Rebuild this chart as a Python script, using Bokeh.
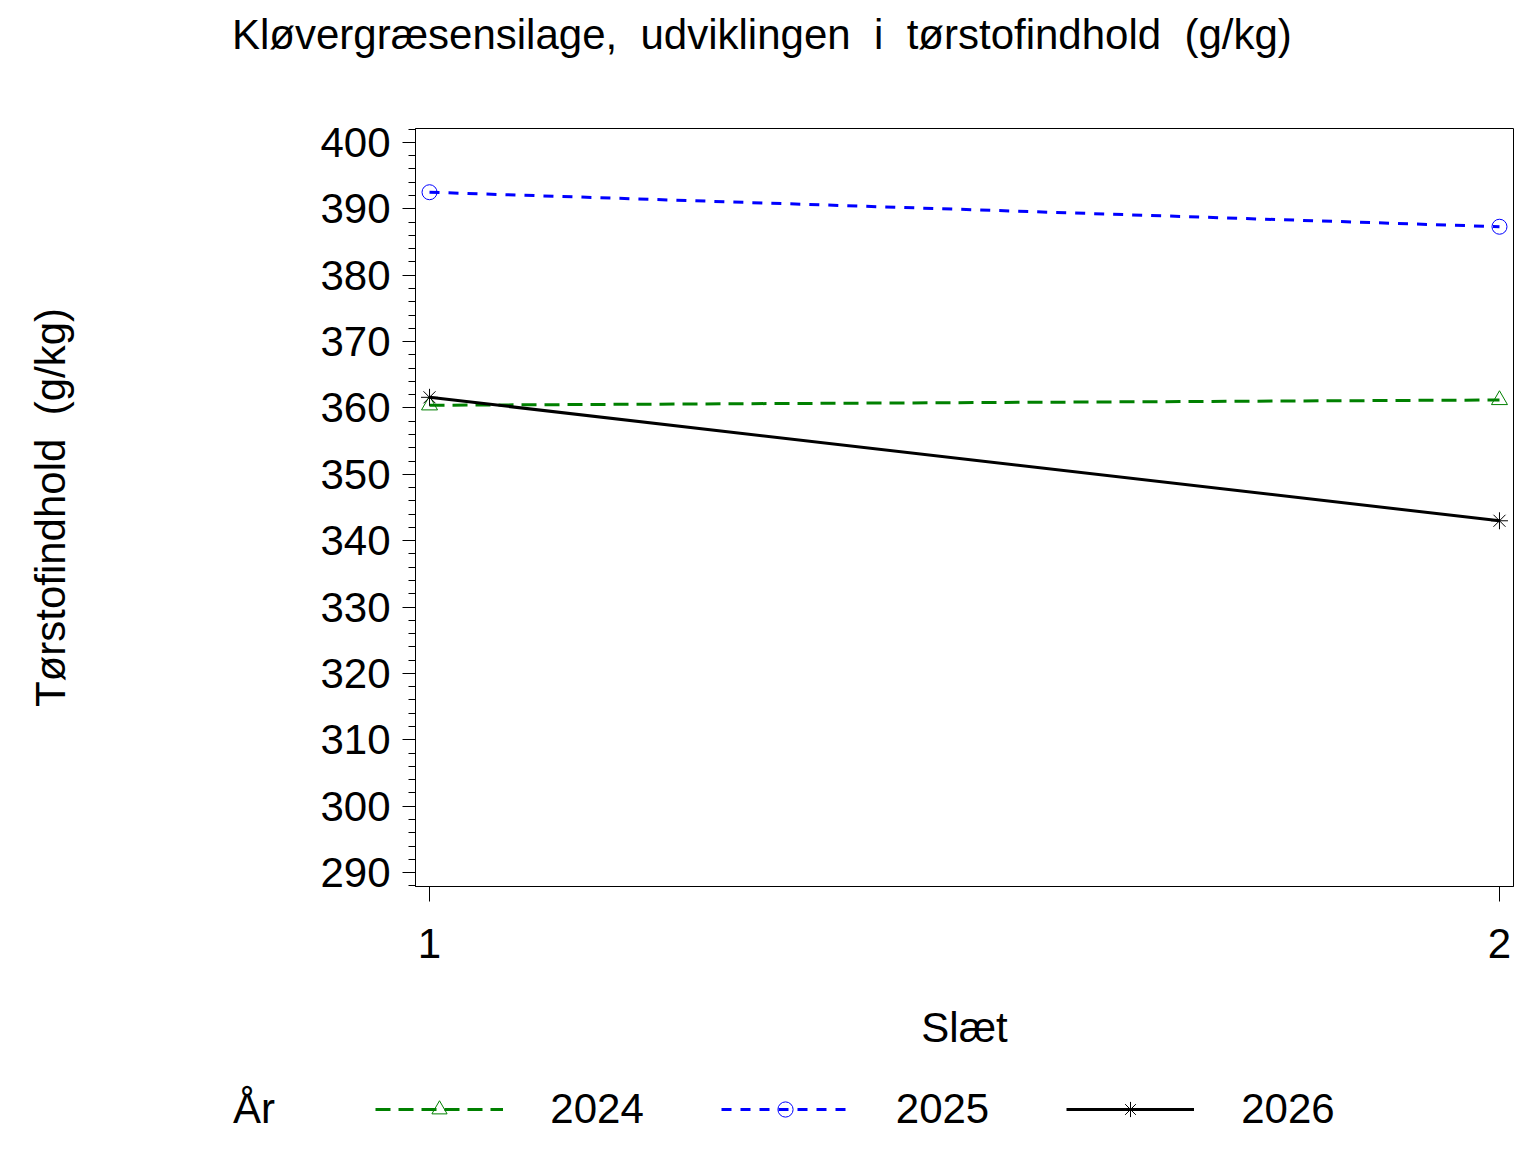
from bokeh.plotting import figure
from bokeh.layouts import column
from bokeh.models import (Range1d, FixedTicker, Legend, LegendItem, Div)
from bokeh.embed import file_html
from bokeh.resources import INLINE

# ---- data ----
slaet = [1, 2]
aar = ["2024", "2025", "2026"]
v2024 = [360.4, 361.2]
v2025 = [392.5, 387.3]
v2026 = [361.6, 343.0]
y_ticks = [290, 300, 310, 320, 330, 340, 350, 360, 370, 380, 390, 400]
x_ticks = [1, 2]

NB = "\u00a0"
title_text = f"Kløvergræsensilage,{NB} udviklingen{NB} i{NB} tørstofindhold{NB} (g/kg)"
ylabel = f"Tørstofindhold{NB} (g/kg)"
xlabel = "Slæt"
legend_title = "År"

FONT = "Liberation Sans"
FS = "42px"
W = 1520

styles = [
    dict(color="#008000", dash="15 8", marker="triangle", size=16),
    dict(color="#0000FF", dash="10 9", marker="circle", size=15),
    dict(color="black", dash="solid", marker="asterisk", size=17),
]
series = [v2024, v2025, v2026]

# ---- title strip ----
title_div = Div(text=title_text, width=W, height=90,
                styles={"font-family": FONT, "font-size": FS, "color": "black",
                        "padding-left": "227px", "padding-top": "6px",
                        "white-space": "nowrap", "line-height": "normal"})

# ---- main plot ----
p = figure(frame_width=1098, frame_height=758,
           min_border_left=415, min_border_right=7,
           min_border_top=28, min_border_bottom=190,
           x_range=Range1d(0.9869, 2.0131), y_range=Range1d(287.9, 402.1),
           output_backend="svg", toolbar_location=None,
           background_fill_color="white", border_fill_color="white")
p.xgrid.visible = False
p.ygrid.visible = False
p.outline_line_color = "black"
p.outline_line_width = 1

ya = p.yaxis[0]
ya.ticker = FixedTicker(ticks=y_ticks, minor_ticks=[t for t in range(288, 403, 2) if t % 10 != 0])
ya.major_tick_out = 13
ya.major_tick_in = 0
ya.minor_tick_out = 7
ya.minor_tick_in = 0
ya.major_label_standoff = 12
ya.major_label_text_font = FONT
ya.major_label_text_font_size = FS
ya.major_label_text_color = "black"
ya.axis_label = ylabel
ya.axis_label_text_font = FONT
ya.axis_label_text_font_size = FS
ya.axis_label_text_font_style = "normal"
ya.axis_label_text_color = "black"
ya.axis_label_standoff = 243
ya.axis_line_color = "black"

xa = p.xaxis[0]
xa.ticker = FixedTicker(ticks=x_ticks, minor_ticks=[])
xa.major_tick_out = 15
xa.major_tick_in = 0
xa.minor_tick_out = 0
xa.minor_tick_in = 0
xa.major_label_standoff = 27
xa.major_label_text_font = FONT
xa.major_label_text_font_size = FS
xa.major_label_text_color = "black"
xa.axis_label = xlabel
xa.axis_label_text_font = FONT
xa.axis_label_text_font_size = FS
xa.axis_label_text_font_style = "normal"
xa.axis_label_text_color = "black"
xa.axis_label_standoff = 43
xa.axis_line_color = "black"

for vals, st in zip(series, styles):
    p.line(slaet, vals, line_color=st["color"], line_width=3, line_dash=st["dash"])
    p.scatter(slaet, vals, marker=st["marker"], size=st["size"], line_color=st["color"],
              fill_alpha=0, line_width=1)

# ---- legend strip (its own small plot; renderers hold no visible points) ----
LH = 60
fl = figure(width=W, height=LH, min_border=0, min_border_left=0, min_border_right=0,
            min_border_top=0, min_border_bottom=0,
            x_range=Range1d(0, 1), y_range=Range1d(0, 1),
            x_axis_type=None, y_axis_type=None,
            output_backend="svg", toolbar_location=None,
            background_fill_color="white", border_fill_color="white")
fl.outline_line_color = None
nan = float("nan")
head = fl.line([nan], [nan], line_alpha=0)
items = [LegendItem(label=legend_title + NB + NB, renderers=[head])]
for name, st in zip(aar, styles):
    lr = fl.line([nan], [nan], line_color=st["color"], line_width=3, line_dash=st["dash"])
    mr = fl.scatter([nan], [nan], marker=st["marker"], size=st["size"], line_color=st["color"],
                    fill_alpha=0, line_width=1)
    items.append(LegendItem(label=name, renderers=[lr, mr]))

legend = Legend(items=items, orientation="horizontal", location=(58, 3),
                glyph_width=128, glyph_height=38, label_standoff=47, spacing=77,
                padding=0, margin=0, border_line_alpha=0, background_fill_alpha=0,
                label_text_font=FONT, label_text_font_size=FS,
                label_text_color="black")
fl.add_layout(legend, "center")

layout = column(title_div, p, column(fl, spacing=0), spacing=0)
open("out.html", "w").write(file_html(layout, INLINE))
